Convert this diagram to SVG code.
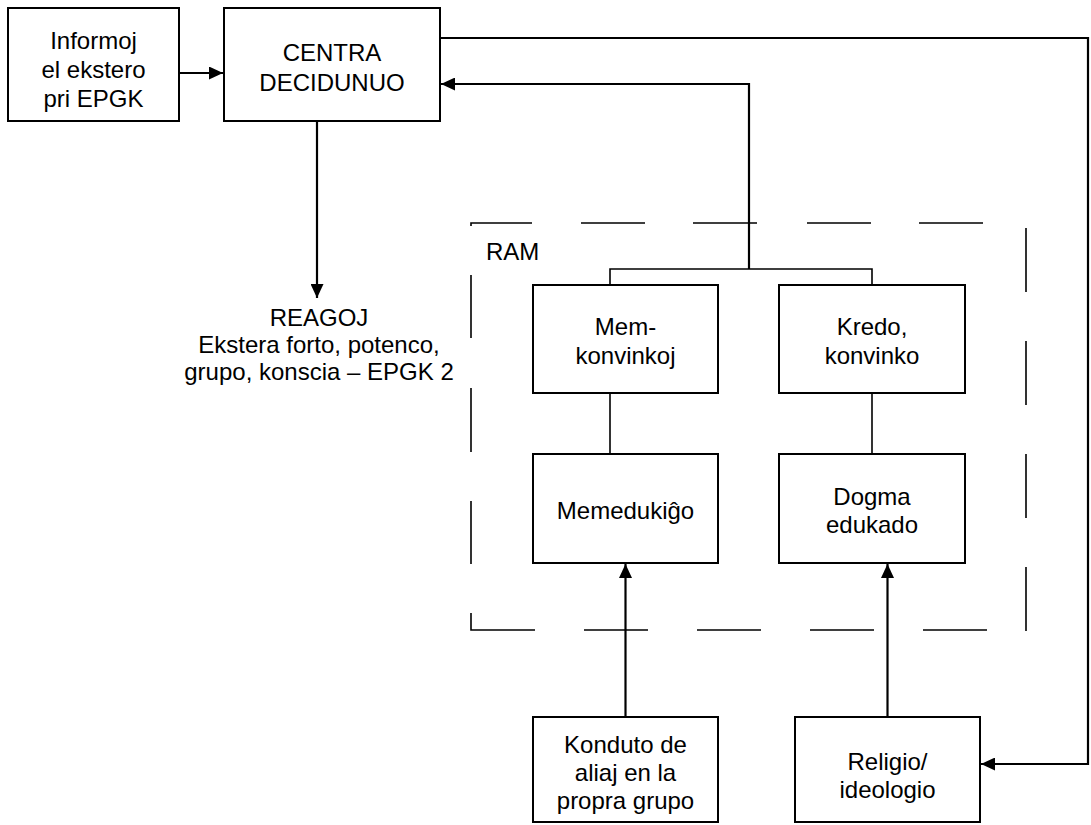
<svg xmlns="http://www.w3.org/2000/svg" width="1091" height="825" viewBox="0 0 1091 825">
<style>
.box{fill:#fff;stroke:#000;stroke-width:2}
.t{font-family:"Liberation Sans",Arial,sans-serif;font-size:24px;fill:#000;text-anchor:middle}
.arr{fill:none;stroke:#000;stroke-width:2.2;marker-end:url(#ah)}
.ln{fill:none;stroke:#000;stroke-width:1.6}
.frame{fill:none;stroke:#000;stroke-width:1.6}
</style>
<defs>
<marker id="ah" markerUnits="userSpaceOnUse" markerWidth="15" markerHeight="13" refX="14" refY="6.5" orient="auto">
<path d="M0,0 L14,6.5 L0,13 z" fill="#000"/>
</marker>
</defs>
<rect width="1091" height="825" fill="#fff"/>
<g id="ram">
<path class="frame" d="M471,226 V223 H532 M581,223 H645 M693,223 H757 M807,223 H871 M919,223 H983
M1026,228 V292 M1026,341 V405 M1026,454 V518 M1026,567 V631
M535,630 H471 V613 M584,630 H648 M697,630 H761 M810,630 H874 M923,630 H987
M471,275 V338 M471,388 V452 M471,501 V564"/>
<text class="t" x="486" y="260" style="text-anchor:start">RAM</text>
</g>
<g id="connectors">
<path class="arr" d="M179,73 H223"/>
<path class="arr" d="M749,269 V84 H441"/>
<path class="arr" d="M440,38 H1088 V764 H981"/>
<path class="arr" d="M317,121 V298"/>
<path class="arr" d="M625.5,717 V564"/>
<path class="arr" d="M887.5,717 V564"/>
<path class="ln" d="M610,285 V269 H872 V285"/>
<path class="ln" d="M610,393 V454"/>
<path class="ln" d="M872,393 V454"/>
</g>
<g id="informoj">
<rect class="box" x="8" y="8" width="171" height="113"/>
<text class="t" x="93.5" y="49">Informoj</text>
<text class="t" x="93.5" y="78">el ekstero</text>
<text class="t" x="93.5" y="107">pri EPGK</text>
</g>
<g id="centra">
<rect class="box" x="224" y="8" width="216" height="113"/>
<text class="t" x="332" y="61">CENTRA</text>
<text class="t" x="332" y="91">DECIDUNUO</text>
</g>
<g id="reagoj">
<text class="t" x="319" y="326">REAGOJ</text>
<text class="t" x="319" y="353">Ekstera forto, potenco,</text>
<text class="t" x="319" y="380">grupo, konscia – EPGK 2</text>
</g>
<g id="memkonvinkoj">
<rect class="box" x="533" y="285" width="185" height="108"/>
<text class="t" x="625.5" y="335">Mem-</text>
<text class="t" x="625.5" y="364">konvinkoj</text>
</g>
<g id="kredo">
<rect class="box" x="779" y="285" width="186" height="108"/>
<text class="t" x="872" y="335">Kredo,</text>
<text class="t" x="872" y="364">konvinko</text>
</g>
<g id="memedukigo">
<rect class="box" x="533" y="454" width="185" height="109"/>
<text class="t" x="625.5" y="519">Memedukiĝo</text>
</g>
<g id="dogma">
<rect class="box" x="779" y="454" width="186" height="109"/>
<text class="t" x="872" y="505">Dogma</text>
<text class="t" x="872" y="533">edukado</text>
</g>
<g id="konduto">
<rect class="box" x="533" y="717" width="185" height="105"/>
<text class="t" x="625.5" y="753">Konduto de</text>
<text class="t" x="625.5" y="781">aliaj en la</text>
<text class="t" x="625.5" y="809">propra grupo</text>
</g>
<g id="religio">
<rect class="box" x="795" y="717" width="185" height="105"/>
<text class="t" x="887.5" y="770">Religio/</text>
<text class="t" x="887.5" y="798">ideologio</text>
</g>
</svg>
